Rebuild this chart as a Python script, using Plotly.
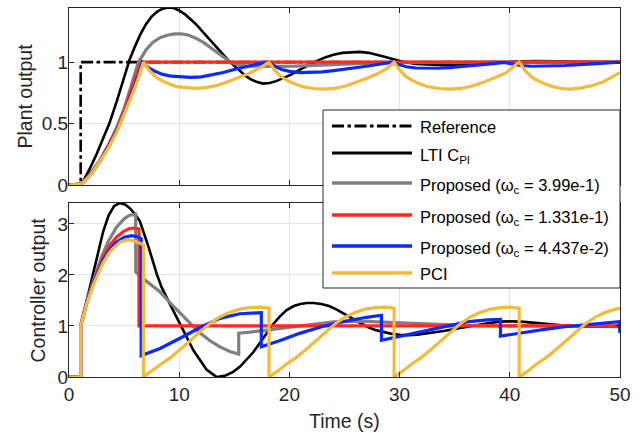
import plotly.graph_objects as go

# ---------------- data ----------------
# Top panel: plant output
t_ref = [0, 1.06, 1.06, 50]
y_ref = [0, 0, 1, 1]

t_lti_y = [0, 1.1, 1.9, 2.5, 3.1, 3.66, 4.33, 5, 5.5, 6, 6.5, 7, 7.5, 8, 8.5, 9, 9.5, 10,
           10.5, 11, 11.5, 12, 12.5, 13, 13.5, 14, 14.5, 15, 15.5, 16, 16.5, 17, 17.6, 18.2,
           18.8, 19.5, 20.2, 21, 21.8, 22.5, 23.3, 24, 24.8, 25.6, 26.4, 27.2, 28, 28.8, 29.6,
           30.4, 31.5, 32.7, 34, 35.3, 36.6, 38, 39.5, 41, 42.5, 44, 46, 48, 50]
y_lti_y = [0, 0, 0.135, 0.25, 0.38, 0.5, 0.68, 0.87, 1.02, 1.13, 1.23, 1.31, 1.37, 1.41, 1.435,
           1.445, 1.44, 1.42, 1.39, 1.35, 1.31, 1.26, 1.21, 1.16, 1.11, 1.06, 1.01, 0.97, 0.93,
           0.89, 0.86, 0.84, 0.825, 0.83, 0.845, 0.87, 0.9, 0.94, 0.98, 1.01, 1.04, 1.06, 1.075,
           1.082, 1.083, 1.075, 1.06, 1.04, 1.02, 1.0, 0.985, 0.977, 0.974, 0.976, 0.983, 0.992,
           1.0, 1.006, 1.008, 1.006, 1.002, 0.999, 0.998]

t_p1_y = [0, 1.15, 2, 2.8, 3.5, 4.3, 5, 5.6, 6.3, 7, 7.6, 8.3, 9, 9.6, 10.2, 10.8, 11.5, 12.2,
          13, 13.8, 14.6, 15.4, 16.3, 17.5, 19, 20.5, 22, 24, 26, 28, 31, 35, 40, 45, 50]
y_p1_y = [0, 0.01, 0.1, 0.2, 0.31, 0.46, 0.62, 0.79, 1.0, 1.1, 1.16, 1.2, 1.22, 1.23, 1.23,
          1.22, 1.195, 1.16, 1.11, 1.055, 1.0, 0.975, 0.967, 0.965, 0.965, 0.967, 0.972, 0.98,
          0.988, 0.993, 0.997, 1.0, 1.0, 1.0, 1.0]

t_p2_y = [0, 1.15, 2, 2.81, 3.5, 4.33, 5.1, 5.84, 6.2, 6.55, 50]
y_p2_y = [0, 0.01, 0.09, 0.2, 0.31, 0.455, 0.63, 0.82, 0.91, 1.0, 1.0]

t_p3_y = [0, 1.15, 2, 2.81, 3.5, 4.33, 5.1, 5.84, 6.3, 6.65, 7.2, 7.8, 8.5, 9.3, 10.1, 11, 12,
          13, 14, 15, 16, 17, 18.15, 18.7, 19.3, 20, 21, 22, 23, 24, 25, 26, 27, 28, 29.3, 29.9,
          30.6, 31.5, 32.5, 33.5, 34.5, 35.5, 36.5, 37.5, 38.5, 39.5, 40.2, 41, 42, 43, 44, 45,
          46, 47, 48, 49, 50]
y_p3_y = [0, 0.01, 0.088, 0.195, 0.3, 0.44, 0.605, 0.78, 0.89, 1.0, 0.955, 0.925, 0.9, 0.885,
          0.878, 0.876, 0.88, 0.895, 0.915, 0.94, 0.962, 0.982, 1.0, 0.965, 0.94, 0.925, 0.915,
          0.915, 0.92, 0.93, 0.94, 0.952, 0.966, 0.98, 1.0, 0.98, 0.962, 0.952, 0.948, 0.95,
          0.955, 0.962, 0.97, 0.978, 0.987, 0.997, 0.985, 0.972, 0.966, 0.966, 0.968, 0.972,
          0.977, 0.983, 0.989, 0.994, 1.0]

t_pci_y = [0, 1.15, 2, 2.81, 3.5, 4.33, 5.1, 5.84, 6.3, 6.75, 7.3, 7.8, 8.3, 9, 9.8, 10.6, 11.4,
           12.4, 13.4, 14.4, 15.4, 16.4, 17.4, 18.15, 18.7, 19.2, 19.7, 20.4, 21.2, 22.2, 23.1,
           24.1, 25.1, 26.1, 27.1, 28.1, 28.9, 29.5, 30.05, 30.55, 31.05, 31.75, 32.55, 33.6,
           34.6, 35.6, 36.6, 37.6, 38.6, 39.6, 40.85, 41.4, 41.9, 42.4, 43.1, 43.9, 44.7, 45.5,
           46.5, 47.5, 48.5, 49.3, 50]
y_pci_y = [0, 0.01, 0.085, 0.19, 0.29, 0.43, 0.59, 0.76, 0.87, 1.0, 0.93, 0.885, 0.855, 0.825,
           0.8, 0.79, 0.786, 0.792, 0.81, 0.84, 0.875, 0.91, 0.955, 1.0, 0.93, 0.885, 0.855,
           0.825, 0.8, 0.785, 0.78, 0.786, 0.805, 0.835, 0.87, 0.91, 0.95, 1.0, 0.93, 0.885,
           0.855, 0.825, 0.8, 0.785, 0.78, 0.786, 0.805, 0.835, 0.87, 0.91, 1.0, 0.93, 0.885,
           0.855, 0.825, 0.8, 0.785, 0.78, 0.79, 0.81, 0.84, 0.88, 0.915]

# Bottom panel: controller output
t_lti_u = [0, 1.06, 1.06, 1.6, 2.2, 2.7, 3.1, 3.6, 4.1, 4.6, 5.1, 5.6, 6.0, 6.44, 7.2, 7.96, 8.4,
           9.3, 10.2, 11.3, 12.5, 13.4, 14.2, 14.9, 15.5, 16.1, 16.7, 17.3, 17.9, 18.5, 19.1,
           19.75, 20.4, 21, 21.6, 22.2, 22.9, 23.6, 24.3, 25, 25.7, 26.4, 27.1, 27.8, 28.5, 29.2,
           30, 30.8, 31.6, 32.4, 33.2, 34, 35, 36, 37, 38, 39.1, 40.2, 41.3, 42.4, 43.5, 44.6,
           45.7, 47, 48.5, 50]
y_lti_u = [0, 0, 1.0, 1.5, 2.06, 2.5, 2.85, 3.17, 3.35, 3.41, 3.38, 3.29, 3.19, 3.05, 2.56, 2.02,
           1.76, 1.37, 1.0, 0.52, 0.14, 0.0, 0.03, 0.1, 0.2, 0.33, 0.48, 0.66, 0.85, 1.03, 1.18,
           1.31, 1.39, 1.43, 1.45, 1.45, 1.43, 1.39, 1.32, 1.24, 1.15, 1.06, 0.98, 0.92, 0.88,
           0.85, 0.825, 0.82, 0.83, 0.85, 0.875, 0.9, 0.94, 0.98, 1.02, 1.055, 1.085, 1.09, 1.08,
           1.06, 1.035, 1.01, 0.995, 0.985, 0.985, 0.99]

t_p1_u = [0, 1.06, 1.06, 1.6, 2.2, 3, 3.6, 4.3, 5, 5.5, 6.05, 6.05, 7, 8.3, 9.2, 10.07, 11, 11.9,
          12.8, 13.7, 14.6, 15.4, 15.4, 16.4, 17.5, 18.5, 19.7, 21, 22.5, 24, 25.5, 27, 29, 32,
          36, 40, 45, 50]
y_p1_u = [0, 0, 1.0, 1.47, 1.88, 2.38, 2.67, 2.93, 3.1, 3.17, 3.19, 2.06, 1.88, 1.66, 1.45, 1.25,
          1.05, 0.86, 0.71, 0.59, 0.5, 0.45, 0.86, 0.88, 0.91, 0.935, 0.965, 0.995, 1.04, 1.08,
          1.09, 1.09, 1.07, 1.04, 1.01, 1.0, 1.0, 1.0]

t_p2_u = [0, 1.06, 1.06, 1.6, 2.2, 3, 3.6, 4.3, 5, 5.5, 5.9, 6.35, 6.35, 50]
y_p2_u = [0, 0, 1.0, 1.45, 1.85, 2.3, 2.55, 2.74, 2.86, 2.91, 2.92, 2.9, 1.0, 1.0]

t_p3_u = [0, 1.06, 1.06, 1.6, 2.2, 3, 3.6, 4.3, 5, 5.7, 6.2, 6.55, 6.55, 8.26, 10.07, 11.9, 13.7,
          15.5, 17.45, 17.45, 19.1, 21, 23, 25, 27, 28.35, 28.35, 30, 32, 34.6, 36.1, 38, 39.15,
          39.15, 40.9, 43, 45.2, 47.5, 49.9, 50]
y_p3_u = [0, 0, 1.0, 1.45, 1.83, 2.25, 2.47, 2.64, 2.74, 2.77, 2.75, 2.71, 0.42, 0.56, 0.76,
          0.97, 1.15, 1.24, 1.26, 0.59, 0.71, 0.86, 0.99, 1.09, 1.17, 1.21, 0.72, 0.8, 0.89,
          1.02, 1.08, 1.12, 1.13, 0.8, 0.86, 0.93, 0.99, 1.04, 1.085, 0.86]

t_pci_u = [0, 1.06, 1.06, 1.6, 2.2, 3, 3.6, 4.0, 4.7, 5.35, 6, 6.75, 6.75, 7.5, 8.26, 9.2, 10.07,
           11, 11.9, 12.8, 13.7, 14.6, 15.5, 16.4, 17.3, 18.15, 18.15, 18.9, 19.65, 20.6, 21.45,
           22.4, 23.3, 24.2, 25.1, 26.0, 26.9, 27.8, 28.7, 29.5, 29.5, 30.25, 31.0, 31.95, 32.8,
           33.75, 34.65, 35.55, 36.45, 37.35, 38.25, 39.15, 40.05, 40.85, 40.85, 41.6, 42.35,
           43.3, 44.15, 45.1, 46.0, 46.9, 47.8, 48.7, 49.6, 50]
y_pci_u = [0, 0, 1.0, 1.43, 1.8, 2.2, 2.42, 2.52, 2.65, 2.69, 2.66, 2.59, 0, 0.11, 0.24, 0.38,
           0.53, 0.71, 0.89, 1.05, 1.18, 1.27, 1.33, 1.36, 1.37, 1.35, 0, 0.11, 0.24, 0.38, 0.53,
           0.71, 0.89, 1.05, 1.18, 1.27, 1.33, 1.36, 1.37, 1.35, 0, 0.11, 0.24, 0.38, 0.53, 0.71,
           0.89, 1.05, 1.18, 1.27, 1.33, 1.36, 1.37, 1.35, 0, 0.11, 0.24, 0.38, 0.53, 0.71, 0.89,
           1.05, 1.18, 1.27, 1.33, 1.345]

names = ["Reference", "LTI C<sub>PI</sub>",
         "Proposed (ω<sub>c</sub> = 3.99e-1)",
         "Proposed (ω<sub>c</sub> = 1.331e-1)",
         "Proposed (ω<sub>c</sub> = 4.437e-2)",
         "PCI"]
colors = ["#000000", "#000000", "#808080", "#FF2A1A", "#0A2AFF", "#F6BA3A"]
widths = [2.6, 2.6, 3.2, 3.2, 3.2, 3.2]
DASHDOT = "12px,3.5px,3.5px,3.5px"

top_series = [(t_ref, y_ref), (t_lti_y, y_lti_y), (t_p1_y, y_p1_y), (t_p2_y, y_p2_y),
              (t_p3_y, y_p3_y), (t_pci_y, y_pci_y)]
bot_series = [None, (t_lti_u, y_lti_u), (t_p1_u, y_p1_u), (t_p2_u, y_p2_u),
              (t_p3_u, y_p3_u), (t_pci_u, y_pci_u)]

FONT = "Liberation Sans, Arial, Helvetica, sans-serif"
AX = "#262626"
GRID = "#E3E3E3"
W, H = 640, 433

fig = go.Figure()
for i, (tt, yy) in enumerate(top_series):
    fig.add_trace(go.Scatter(
        x=tt, y=yy, mode="lines", name=names[i], legendgroup=str(i),
        line=dict(color=colors[i], width=widths[i], dash=DASHDOT if i == 0 else "solid"),
        xaxis="x", yaxis="y", showlegend=False))
for i, s in enumerate(bot_series):
    if s is None:
        continue
    tt, yy = s
    fig.add_trace(go.Scatter(
        x=tt, y=yy, mode="lines", name=names[i], legendgroup=str(i),
        line=dict(color=colors[i], width=widths[i]),
        xaxis="x2", yaxis="y2", showlegend=False))


# ---- pixel positions -> paper coords ----
def px(x):
    return x / W


def py(y):
    return (H - y) / H


# legend box drawn as layout decoration
legend_rows = [126, 153, 183, 215, 246, 273]
shapes = [dict(type="rect", xref="paper", yref="paper", x0=px(323), x1=px(620),
               y0=py(288), y1=py(110), line=dict(color=AX, width=1), fillcolor="white",
               layer="above")]
annotations = []
for i, ry in enumerate(legend_rows):
    shapes.append(dict(type="line", xref="paper", yref="paper", x0=px(332), x1=px(412),
                       y0=py(ry), y1=py(ry), layer="above",
                       line=dict(color=colors[i], width=widths[i] + 0.4,
                                 dash=DASHDOT if i == 0 else "solid")))
    has_sub = "<sub>" in names[i]
    annotations.append(dict(xref="paper", yref="paper", x=px(418),
                            y=py(ry + (2.5 if has_sub else 0.5)), xanchor="left",
                            yanchor="middle", showarrow=False, text=names[i],
                            font=dict(family=FONT, size=16.5, color="black")))

# axis titles
title_font = dict(family=FONT, size=19.5, color=AX)
annotations += [
    dict(xref="paper", yref="paper", x=px(24.5), y=py(96), text="Plant output",
         textangle=-90, showarrow=False, xanchor="center", yanchor="middle", font=title_font),
    dict(xref="paper", yref="paper", x=px(37.5), y=py(290), text="Controller output",
         textangle=-90, showarrow=False, xanchor="center", yanchor="middle", font=title_font),
    dict(xref="paper", yref="paper", x=px(344), y=py(421), text="Time (s)",
         showarrow=False, xanchor="center", yanchor="middle", font=title_font),
]

axis_common = dict(showline=True, linecolor=AX, linewidth=1, mirror="ticks",
                   ticks="inside", ticklen=5, tickcolor=AX, tickwidth=1,
                   showgrid=True, gridcolor=GRID, gridwidth=1, zeroline=False,
                   tickfont=dict(family=FONT, size=19, color=AX), automargin=False)

fig.update_layout(
    width=W, height=H,
    margin=dict(l=0, r=0, t=0, b=0),
    paper_bgcolor="white", plot_bgcolor="white",
    font=dict(family=FONT, color=AX),
    xaxis=dict(domain=[px(69), px(620)], range=[0, 50], tickvals=[0, 10, 20, 30, 40, 50],
               showticklabels=False, anchor="y", **axis_common),
    yaxis=dict(domain=[py(185), py(8)], range=[0, 1.44], tickvals=[0, 0.5, 1],
               ticktext=["0", "0.5", "1"], anchor="x", ticklabelstandoff=-4, **axis_common),
    xaxis2=dict(domain=[px(69), px(620)], range=[0, 50], tickvals=[0, 10, 20, 30, 40, 50],
                anchor="y2", **axis_common),
    yaxis2=dict(domain=[py(377), py(203)], range=[0, 3.41], tickvals=[0, 1, 2, 3],
                anchor="x2", ticklabelstandoff=-4, **axis_common),
    shapes=shapes,
    annotations=annotations,
    showlegend=False,
)

fig.write_html("out.html", config={"displayModeBar": False},
               post_script="document.body.style.margin='0';")
